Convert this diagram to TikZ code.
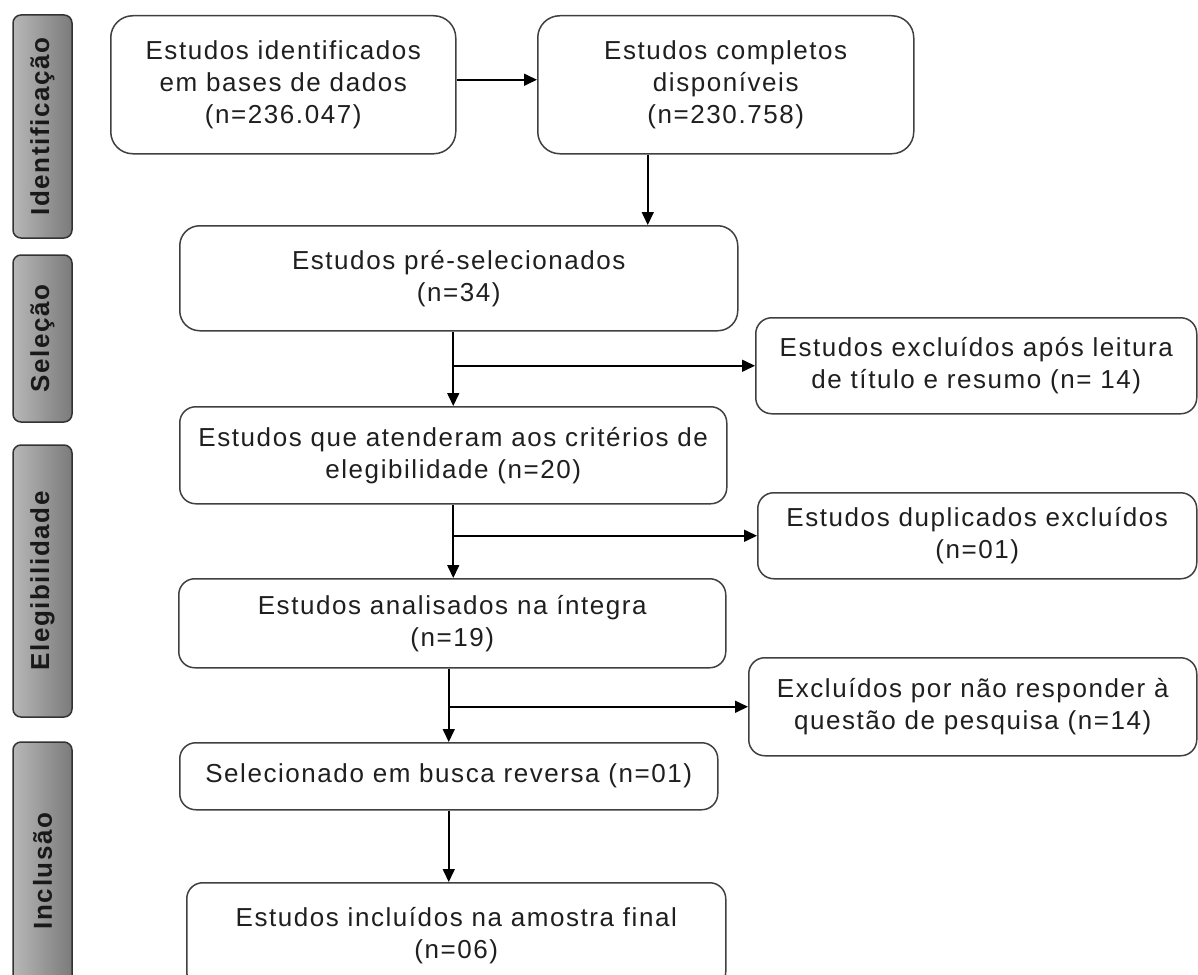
\documentclass[tikz,border=0pt]{standalone}
\usepackage{fontspec}
\setmainfont[LetterSpace=6]{Liberation Sans}
\usepackage{tikz}
\usetikzlibrary{arrows.meta}
\newcommand{\boxfont}{\fontsize{26}{32}\selectfont}
\tikzset{
    block/.style={rectangle, draw=black!75, line width=1.5pt, fill=white, text=black!88, rounded corners=16pt, align=center, anchor=north west, inner sep=0pt, font=\boxfont},
    stage/.style={rectangle, draw=black!80, line width=1.5pt, rounded corners=8pt, left color=black!28, right color=black!52, text=black!90, minimum height=59pt, rotate=90, inner sep=0pt, font=\boxfont\bfseries},
    line/.style={draw, line width=1.6pt, -{Triangle[length=13pt, width=12pt]}}
}

\begin{document}
\begin{tikzpicture}[x=1pt, y=-1pt]
    \useasboundingbox (0,0) rectangle (1198,974);

    % Stages
    \node [stage, minimum width=223pt] (sident) at (42.5,126.5) {Identificação};
    \node [stage, minimum width=167pt] (ssel) at (42.5,338.5) {Seleção};
    \node [stage, minimum width=272pt] (seleg) at (42.5,581) {Elegibilidade};
    \node [stage, minimum width=258pt] (sincl) at (42.5,871) {Inclusão};

    % Main column
    \node [block, rounded corners=22pt, minimum width=345pt, minimum height=138pt] (ident) at (110,15) {Estudos identificados\\em bases de dados\\(n=236.047)};
    \node [block, rounded corners=22pt, minimum width=376pt, minimum height=138pt] (compl) at (537,15) {Estudos completos\\disponíveis\\(n=230.758)};
    \node [block, rounded corners=20pt, minimum width=558pt, minimum height=105pt] (presel) at (179,225) {Estudos pré-selecionados\\(n=34)};
    \node [block, minimum width=547pt, minimum height=97pt] (eleg) at (179,406) {Estudos que atenderam aos critérios de\\elegibilidade (n=20)};
    \node [block, minimum width=547pt, minimum height=89pt] (integ) at (178,578) {Estudos analisados na íntegra\\(n=19)};
    \node [block, minimum width=538pt, minimum height=67pt] (rev) at (179,742) {Selecionado em busca reversa (n=01)};
    \node [block, minimum width=539pt, minimum height=105pt] (final) at (186,882) {Estudos incluídos na amostra final\\(n=06)};

    % Exclusions
    \node [block, minimum width=441pt, minimum height=96pt] (excl1) at (755,317) {Estudos excluídos após leitura\\de título e resumo (n= 14)};
    \node [block, minimum width=439pt, minimum height=86pt] (dupl) at (757,492) {Estudos duplicados excluídos\\(n=01)};
    \node [block, minimum width=448pt, minimum height=98pt] (naoresp) at (748,657) {Excluídos por não responder à\\questão de pesquisa (n=14)};

    % Arrows
    \draw [line] ([yshift=5pt]ident.east) -- ([yshift=5pt]compl.west);
    \draw [line] ([xshift=-78pt]compl.south) -- ([xshift=-78pt]compl.south |- presel.north);
    \draw [line] (eleg.north |- presel.south) -- (eleg.north);
    \draw [line] (eleg.north |- excl1.west) -- (excl1.west);
    \draw [line] (eleg.south) -- (eleg.south |- integ.north);
    \draw [line] (eleg.south |- dupl.west) -- (dupl.west);
    \draw [line] (rev.north |- integ.south) -- (rev.north);
    \draw [line] (rev.north |- naoresp.west) -- (naoresp.west);
    \draw [line] (rev.south) -- (rev.south |- final.north);
\end{tikzpicture}
\end{document}
